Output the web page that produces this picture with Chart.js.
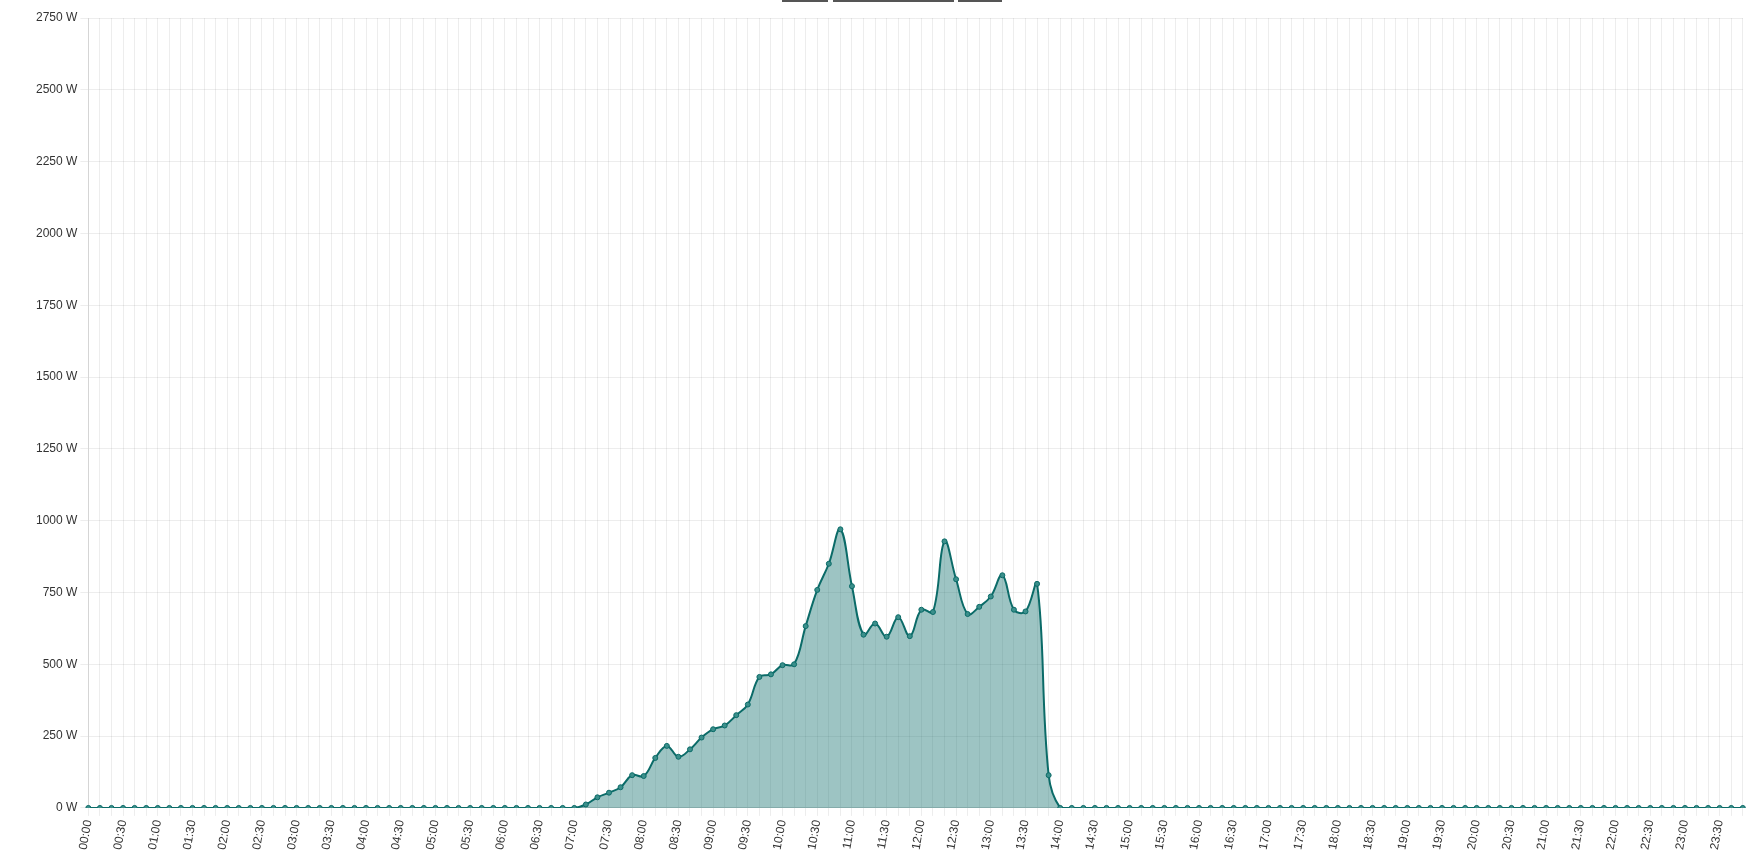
<!DOCTYPE html>
<html>
<head>
<meta charset="utf-8">
<script src="https://cdn.jsdelivr.net/npm/chart.js@4.4.0/dist/chart.umd.min.js"></script>
<style>
    body { margin: 0; background: #fff; overflow: hidden; }
    #wrap { position: relative; width: 1753px; height: 854px; overflow: hidden; }
    .tab { position: absolute; top: 0; height: 2px; background: #555; }
</style>
</head>
<body>
<div id="wrap">
    <div class="tab" style="left:782px; width:46px;"></div>
    <div class="tab" style="left:833px; width:121px;"></div>
    <div class="tab" style="left:958px; width:44px;"></div>
    <canvas id="lineChart" width="1760" height="854"></canvas>
</div>
<script>
        // time of day, one point every 10 minutes
        const timeLabels = [
            '00:00','00:10','00:20','00:30','00:40','00:50','01:00','01:10','01:20','01:30','01:40','01:50',
            '02:00','02:10','02:20','02:30','02:40','02:50','03:00','03:10','03:20','03:30','03:40','03:50',
            '04:00','04:10','04:20','04:30','04:40','04:50','05:00','05:10','05:20','05:30','05:40','05:50',
            '06:00','06:10','06:20','06:30','06:40','06:50','07:00','07:10','07:20','07:30','07:40','07:50',
            '08:00','08:10','08:20','08:30','08:40','08:50','09:00','09:10','09:20','09:30','09:40','09:50',
            '10:00','10:10','10:20','10:30','10:40','10:50','11:00','11:10','11:20','11:30','11:40','11:50',
            '12:00','12:10','12:20','12:30','12:40','12:50','13:00','13:10','13:20','13:30','13:40','13:50',
            '14:00','14:10','14:20','14:30','14:40','14:50','15:00','15:10','15:20','15:30','15:40','15:50',
            '16:00','16:10','16:20','16:30','16:40','16:50','17:00','17:10','17:20','17:30','17:40','17:50',
            '18:00','18:10','18:20','18:30','18:40','18:50','19:00','19:10','19:20','19:30','19:40','19:50',
            '20:00','20:10','20:20','20:30','20:40','20:50','21:00','21:10','21:20','21:30','21:40','21:50',
            '22:00','22:10','22:20','22:30','22:40','22:50','23:00','23:10','23:20','23:30','23:40','23:50'
        ];

        // power in W
        const powerValues = [
            0, 0, 0, 0, 0, 0, 0, 0, 0, 0, 0, 0,
            0, 0, 0, 0, 0, 0, 0, 0, 0, 0, 0, 0,
            0, 0, 0, 0, 0, 0, 0, 0, 0, 0, 0, 0,
            0, 0, 0, 0, 0, 0, 0, 12, 37, 53, 72, 114,
            111, 174, 216, 178, 204, 245, 274, 287, 323, 360, 456, 465,
            497, 500, 633, 759, 850, 970, 772, 603, 642, 596, 664, 598,
            690, 682, 928, 796, 675, 700, 736, 810, 690, 684, 780, 114,
            0, 0, 0, 0, 0, 0, 0, 0, 0, 0, 0, 0,
            0, 0, 0, 0, 0, 0, 0, 0, 0, 0, 0, 0,
            0, 0, 0, 0, 0, 0, 0, 0, 0, 0, 0, 0,
            0, 0, 0, 0, 0, 0, 0, 0, 0, 0, 0, 0,
            0, 0, 0, 0, 0, 0, 0, 0, 0, 0, 0, 0
        ];

        const yMax = 2750;
        const yStep = 250;

        Chart.defaults.font.family = "Arial, 'Liberation Sans', sans-serif";
        Chart.defaults.font.size = 12;
        Chart.defaults.color = '#333';

        const ctx = document.getElementById('lineChart').getContext('2d');

        let chartInstance = new Chart(ctx, {
            type: 'line',
            data: {
                labels: timeLabels,
                datasets: [{
                    label: 'Power',
                    data: powerValues,
                    borderColor: '#0b6b68',
                    borderWidth: 2,
                    backgroundColor: 'rgba(11, 107, 104, 0.4)',
                    pointRadius: 2.5,
                    pointBorderWidth: 1,
                    pointBackgroundColor: '#3b8f8b',
                    pointBorderColor: '#0b6b68',
                    fill: true,
                    tension: 0.4
                }]
            },
            options: {
                responsive: false,
                animation: false,
                layout: { padding: { left: 33, right: 3, top: 18, bottom: 0 } },
                plugins: {
                    legend: { display: false },
                    tooltip: { enabled: false }
                },
                scales: {
                    x: {
                        grid: { color: 'rgba(0,0,0,0.07)' },
                        ticks: {
                            autoSkip: false,
                            minRotation: 80,
                            maxRotation: 80,
                            callback: function (value, index) {
                                return index % 3 === 0 ? timeLabels[index] : '';
                            }
                        }
                    },
                    y: {
                        min: 0,
                        max: yMax,
                        grid: { color: 'rgba(0,0,0,0.07)' },
                        ticks: {
                            stepSize: yStep,
                            callback: value => value + ' W'
                        }
                    }
                }
            }
        });
</script>
</body>
</html>
